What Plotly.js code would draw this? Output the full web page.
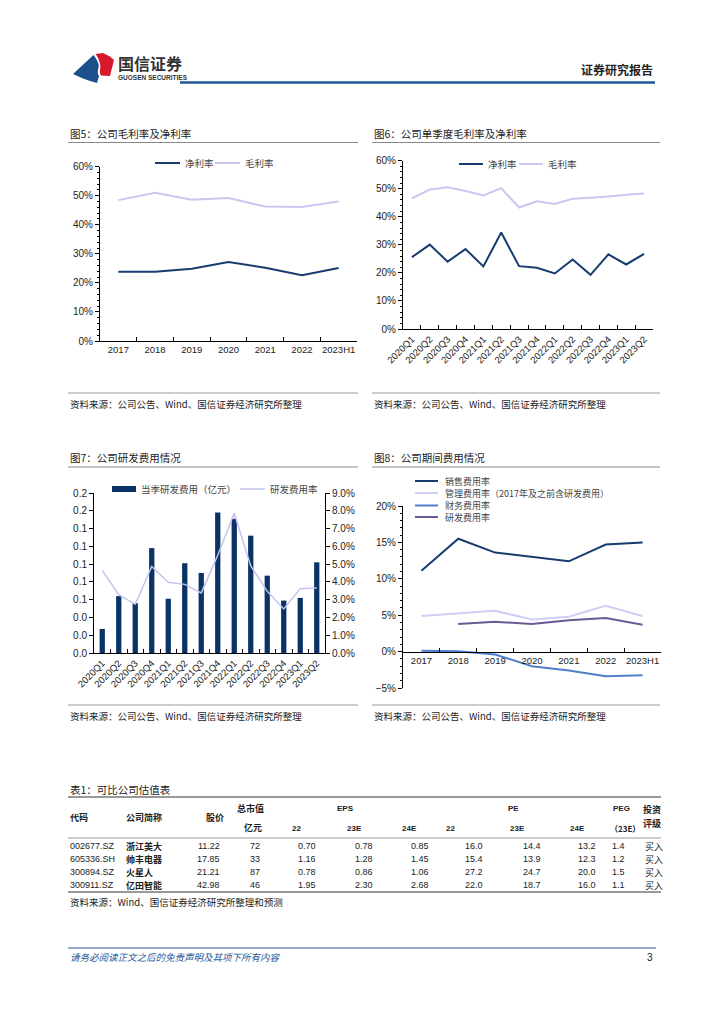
<!DOCTYPE html>
<html>
<head>
<meta charset="utf-8">
<script src="https://cdn.plot.ly/plotly-3.0.1.min.js"></script>
<style>html,body{margin:0;padding:0;background:#fff;}#chart{width:724px;height:1024px;}</style>
</head>
<body>
<div id="chart"></div>
<script>
// ---------- data ----------
const cats1 = ['2017','2018','2019','2020','2021','2022','2023H1'];
const netMargin1 = [23.8,23.8,24.9,27.2,25.2,22.6,25.1];
const grossMargin1 = [48.5,51.0,48.6,49.2,46.3,46.1,48.0];

const cats2 = ['2020Q1','2020Q2','2020Q3','2020Q4','2021Q1','2021Q2','2021Q3','2021Q4','2022Q1','2022Q2','2022Q3','2022Q4','2023Q1','2023Q2'];
const netMargin2 = [25.6,30.1,24.0,28.5,22.3,34.4,22.4,21.8,19.8,24.8,19.3,26.6,23.0,26.8];
const grossMargin2 = [46.6,49.7,50.5,49.2,47.6,50.2,43.3,45.5,44.6,46.4,46.8,47.2,47.9,48.3];

const rdExpense = [0.027,0.064,0.056,0.118,0.061,0.101,0.090,0.158,0.151,0.132,0.087,0.059,0.062,0.102];
const rdRate = [4.65,3.28,2.74,4.87,3.98,3.86,3.38,5.5,7.86,4.9,3.47,2.48,3.62,3.66];

const cats4 = ['2017','2018','2019','2020','2021','2022','2023H1'];
const salesRate = [11.1,15.5,13.6,13.0,12.4,14.7,15.0];
const adminRate = [4.9,5.2,5.6,4.4,4.8,6.3,4.9];
const finRate = [0.1,0.05,-0.4,-2.0,-2.6,-3.4,-3.25];
const rdRate4 = [null,3.8,4.1,3.8,4.3,4.6,3.7];

const tblCodes = ['002677.SZ','605336.SH','300894.SZ','300911.SZ'];
const tblNames = ['浙江美大','帅丰电器','火星人','亿田智能'];
const tblPrice = [11.22,17.85,21.21,42.98];
const tblCap = [72,33,87,46];
const tblEps22 = [0.70,1.16,0.78,1.95];
const tblEps23 = [0.78,1.28,0.86,2.30];
const tblEps24 = [0.85,1.45,1.06,2.68];
const tblPe22 = [16.0,15.4,27.2,22.0];
const tblPe23 = [14.4,13.9,24.7,18.7];
const tblPe24 = [13.2,12.3,20.0,16.0];
const tblPeg = [1.4,1.2,1.5,1.1];
const tblRating = ['买入','买入','买入','买入'];

// ---------- helpers ----------
const W = 724, H = 1024;
const X = p => p / W;
const Y = p => 1 - p / H;
const CJK = 'Noto Sans CJK SC, sans-serif';
const LAT = 'Liberation Sans, Arial, sans-serif';
const NAVY = '#173c6e', LAV = '#c8c8f2';

const annotations = [];
const shapes = [];
function txt(x, y, text, opt) {
  opt = opt || {};
  annotations.push({
    xref:'paper', yref:'paper', x:X(x), y:Y(y), text:text, showarrow:false,
    xanchor: opt.anchor || 'left', yanchor:'middle',
    font:{family: opt.family || CJK, size: opt.size || 10, color: opt.color || '#222'},
  });
}
function hline(x0, x1, y, color, width) {
  shapes.push({type:'line', xref:'paper', yref:'paper', x0:X(x0), x1:X(x1), y0:Y(y), y1:Y(y),
    line:{color:color, width:width}});
}
function rect(x0, x1, y0, y1, color) {
  shapes.push({type:'rect', xref:'paper', yref:'paper', x0:X(x0), x1:X(x1), y0:Y(y0), y1:Y(y1),
    fillcolor:color, line:{width:0}});
}
function pathPx(cmds, color) {
  let d = '';
  cmds.forEach(c => {
    d += c[0];
    for (let i = 1; i < c.length; i += 2) d += ' ' + X(c[i]).toFixed(5) + ',' + Y(c[i+1]).toFixed(5);
    d += ' ';
  });
  shapes.push({type:'path', xref:'paper', yref:'paper', path:d.trim(), fillcolor:color, line:{width:0}});
}

// ---------- header ----------
pathPx([['M',73,74],['L',93.5,55],['C',96,58,97.5,61,98.5,64],['C',99.5,68,96,72,99,76],['L',97,83],['L',90,81],['L',83,78.5],['Z']], '#1d4f8a');
pathPx([['M',95.5,54],['L',103,53],['L',110,56.5],['L',114,60],['L',110,76],['L',101,75.5],['C',98.5,72,101.5,67,99.8,63],['C',98.8,59,97.5,56.5,95.5,54],['Z']], '#d7192b');
txt(116, 63, '<b>国信证券</b>', {size:16, color:'#333'});
txt(116, 77, '<b>GUOSEN SECURITIES</b>', {size:6.5, color:'#333', family:LAT});
txt(655, 69, '<b>证券研究报告</b>', {size:12, anchor:'right', color:'#222'});
hline(180, 655, 82.5, '#1f5a96', 2.5);

// ---------- chart titles, underlines, sources ----------
txt(68, 133, '图5：公司毛利率及净利率', {size:10.5});
txt(372, 133, '图6：公司单季度毛利率及净利率', {size:10.5});
txt(68, 457, '图7：公司研发费用情况', {size:10.5});
txt(372, 457, '图8：公司期间费用情况', {size:10.5});
hline(68, 358, 142.5, '#888', 1.2);
hline(372, 660, 142.5, '#888', 1.2);
hline(68, 358, 467, '#888', 1.2);
hline(372, 660, 467, '#888', 1.2);
hline(68, 358, 393, '#999', 1.2);
hline(372, 660, 393, '#999', 1.2);
hline(68, 358, 705, '#999', 1.2);
hline(372, 660, 705, '#999', 1.2);
const srcTxt = '资料来源：公司公告、Wind、国信证券经济研究所整理';
txt(68, 404, srcTxt, {size:9.5});
txt(372, 404, srcTxt, {size:9.5});
txt(68, 716, srcTxt, {size:9.5});
txt(372, 716, srcTxt, {size:9.5});

// ---------- legends (manual) ----------
const LEGC = '#444';
hline(155, 180, 163, NAVY, 2);  txt(183, 163, '净利率', {size:9.5, color:LEGC});
hline(215, 240, 163, LAV, 2);   txt(243, 163, '毛利率', {size:9.5, color:LEGC});
hline(459, 483, 164, NAVY, 2);  txt(486, 164, '净利率', {size:9.5, color:LEGC});
hline(519, 543, 164, LAV, 2);   txt(546, 164, '毛利率', {size:9.5, color:LEGC});
rect(112, 136, 486, 492, '#0b3264'); txt(139, 489, '当季研发费用（亿元）', {size:9.5, color:LEGC});
hline(240, 265, 489, '#c3c3ee', 1.5); txt(268, 489, '研发费用率', {size:9.5, color:LEGC});
const leg4 = [['销售费用率',NAVY,481],['管理费用率（2017年及之前含研发费用）','#cfcff5',493],['财务费用率','#4f7fc9',505.5],['研发费用率','#6c5a95',517]];
leg4.forEach(l => { hline(415, 438, l[2], l[1], 2); txt(443, l[2], l[0], {size:9, color:LEGC}); });

// ---------- table ----------
txt(68, 789, '表1：可比公司估值表', {size:10.5});
hline(68, 661, 797, '#777', 1.6);
hline(68, 661, 838, '#999', 1);
hline(68, 661, 892, '#777', 1.6);
const TS = 9;
txt(250, 808, '<b>总市值</b>', {size:TS, anchor:'center'});
txt(345, 808, '<b>EPS</b>', {size:TS-1, anchor:'center', family:LAT});
txt(513, 808, '<b>PE</b>', {size:TS-1, anchor:'center', family:LAT});
txt(621, 808, '<b>PEG</b>', {size:TS-1, anchor:'center', family:LAT});
txt(652, 809.5, '<b>投资</b>', {size:TS, anchor:'center'});
txt(68, 817.5, '<b>代码</b>', {size:TS});
txt(124, 817.5, '<b>公司简称</b>', {size:TS});
txt(215, 817.5, '<b>股价</b>', {size:TS, anchor:'center'});
txt(253, 827, '<b>亿元</b>', {size:TS, anchor:'center'});
txt(652, 823, '<b>评级</b>', {size:TS, anchor:'center'});
[['22',290],['23E',345],['24E',400],['22',444],['23E',508],['24E',568],['（23E）',608]].forEach(h => txt(h[1], 828, '<b>'+h[0]+'</b>', {size:TS-1, family: h[0].length>3 ? CJK : LAT}));
const rowY = [846, 859, 872, 885];
const numCols = [[tblPrice,222,2],[tblCap,262,0],[tblEps22,318,2],[tblEps23,375,2],[tblEps24,431,2],[tblPe22,485,1],[tblPe23,543,1],[tblPe24,598,1],[tblPeg,627,1]];
rowY.forEach((y, i) => {
  txt(68, y, tblCodes[i], {size:TS, family:LAT});
  txt(124, y, '<b>'+tblNames[i]+'</b>', {size:TS});
  numCols.forEach(c => txt(c[1], y, c[0][i].toFixed(c[2]), {size:TS, family:LAT, anchor:'right'}));
  txt(643, y, tblRating[i], {size:TS});
});
txt(68, 902, '资料来源：Wind、国信证券经济研究所整理和预测', {size:9.5});

// ---------- footer ----------
hline(68, 656, 948, '#2a5a96', 1);
txt(68, 957, '<i>请务必阅读正文之后的免责声明及其项下所有内容</i>', {size:9.5, color:'#2a5a9a'});
txt(655, 957, '3', {size:10, anchor:'right', family:LAT, color:'#222'});

// ---------- traces ----------
const traces = [
  {type:'scatter', mode:'lines', x:cats1, y:netMargin1, xaxis:'x', yaxis:'y', line:{color:NAVY, width:2}, name:'净利率'},
  {type:'scatter', mode:'lines', x:cats1, y:grossMargin1, xaxis:'x', yaxis:'y', line:{color:LAV, width:2}, name:'毛利率'},
  {type:'scatter', mode:'lines', x:cats2, y:netMargin2, xaxis:'x2', yaxis:'y2', line:{color:NAVY, width:2}, name:'净利率'},
  {type:'scatter', mode:'lines', x:cats2, y:grossMargin2, xaxis:'x2', yaxis:'y2', line:{color:LAV, width:2}, name:'毛利率'},
  {type:'bar', x:cats2, y:rdExpense, xaxis:'x3', yaxis:'y3', marker:{color:'#0b3264'}, width:0.32, name:'当季研发费用（亿元）'},
  {type:'scatter', mode:'lines', x:cats2, y:rdRate, xaxis:'x3', yaxis:'y4', line:{color:'#c3c3ee', width:1.5}, name:'研发费用率'},
  {type:'scatter', mode:'lines', x:cats4, y:salesRate, xaxis:'x4', yaxis:'y5', line:{color:NAVY, width:2}, name:'销售费用率'},
  {type:'scatter', mode:'lines', x:cats4, y:adminRate, xaxis:'x4', yaxis:'y5', line:{color:'#cfcff5', width:2}, name:'管理费用率'},
  {type:'scatter', mode:'lines', x:cats4, y:finRate, xaxis:'x4', yaxis:'y5', line:{color:'#4f7fc9', width:2}, name:'财务费用率'},
  {type:'scatter', mode:'lines', x:cats4, y:rdRate4, xaxis:'x4', yaxis:'y5', line:{color:'#6c5a95', width:2}, name:'研发费用率'},
];

const tickFont = {family:LAT, size:10, color:'#222'};
function catAxis(dom, anchor, n, extra) {
  return Object.assign({domain:dom, anchor:anchor, type:'category', range:[-0.5, n-0.5],
    tickson:'boundaries', ticks:'inside', ticklen:4, tickcolor:'#000', tickangle:0,
    showline:true, linecolor:'#000', linewidth:1, showgrid:false, zeroline:false,
    tickfont:tickFont, fixedrange:true}, extra||{});
}
function valAxis(dom, anchor, range, dtick, extra) {
  return Object.assign({domain:dom, anchor:anchor, range:range, dtick:dtick, tick0:0,
    ticks:'outside', ticklen:4, tickcolor:'#000', showline:true, linecolor:'#000', linewidth:1,
    showgrid:false, zeroline:false, tickfont:tickFont, fixedrange:true}, extra||{});
}

const layout = {
  width:W, height:H, margin:{l:0,r:0,t:0,b:0}, paper_bgcolor:'#fff', plot_bgcolor:'rgba(0,0,0,0)',
  showlegend:false, font:{family:LAT, size:10, color:'#222'},
  xaxis: catAxis([X(100), X(357)], 'y', 7, {tickfont:{family:LAT, size:9.5, color:'#222'}}),
  yaxis: valAxis([Y(341), Y(166.7)], 'x', [0,60], 10, {ticksuffix:'%', minor:{ticks:'outside', ticklen:2, dtick:2, tickcolor:'#000'}}),
  xaxis2: catAxis([X(403), X(653)], 'y2', 14, {tickangle:-45, tickfont:{family:LAT, size:9.5, color:'#222'}}),
  yaxis2: valAxis([Y(329), Y(160.7)], 'x2', [0,60], 10, {ticksuffix:'%', minor:{ticks:'outside', ticklen:2, dtick:2, tickcolor:'#000'}}),
  xaxis3: catAxis([X(94), X(325)], 'y3', 14, {tickangle:-45, tickfont:{family:LAT, size:9.5, color:'#222'}}),
  yaxis3: valAxis([Y(653), Y(493)], 'x3', [0,0.18], 0.02, {tickformat:'.1f'}),
  yaxis4: valAxis([Y(653), Y(493)], 'x3', [0,9], 1, {overlaying:'y3', side:'right', tickformat:'.1f', ticksuffix:'%'}),
  xaxis4: catAxis([X(403), X(661)], 'free', 7, {position:Y(651.7), tickfont:{family:LAT, size:9.5, color:'#222'}}),
  yaxis5: valAxis([Y(688), Y(506)], 'x4', [-5,20], 5, {ticksuffix:'%', minor:{ticks:'outside', ticklen:2, dtick:1, tickcolor:'#000'}}),
  annotations:annotations, shapes:shapes, bargap:0.5,
};

Plotly.newPlot('chart', traces, layout, {displayModeBar:false, staticPlot:true});
</script>
</body>
</html>
